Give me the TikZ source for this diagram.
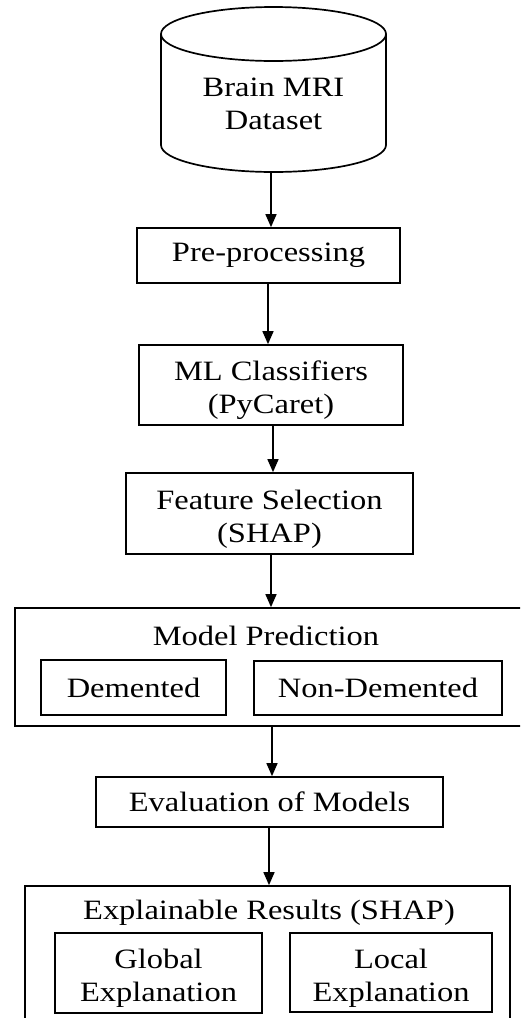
\documentclass[tikz,border=0pt]{standalone}
\usepackage{fontspec}
\setmainfont{Liberation Serif}[FakeStretch=1.16]
\usetikzlibrary{arrows.meta}
\newcommand{\tp}{\rule{0pt}{30pt}}
\begin{document}
\begin{tikzpicture}[x=1pt,y=-1pt,
  every node/.style={font=\fontsize{28}{33}\selectfont, align=center, inner sep=0pt},
  box/.style={draw, line width=1.7pt, rectangle},
  conn/.style={line width=1.5pt, -{Triangle[length=13pt,width=11pt]}},
  outline/.style={line width=1.7pt}]
\clip (0,0) rectangle (520,1018);
\useasboundingbox (0,0) rectangle (520,1018);
% cylinder
\node[minimum width=225pt, minimum height=166pt] (db) at (273.5,89) {};
\draw[outline] (161,34) -- (161,145) arc[start angle=180, end angle=360, x radius=112.5pt, y radius=27pt] -- (386,34);
\draw[outline] (273.5,34) ellipse[x radius=112.5pt, y radius=27pt];
\node (dbt) at (273.5,98) {\tp Brain MRI\\Dataset};
% boxes
\node[box, minimum width=263pt, minimum height=55pt] (pre) at (268.5,255.5) {Pre-processing};
\node[box, minimum width=264pt, minimum height=80pt] (ml) at (271,385) {\tp ML Classifiers\\(PyCaret)};
\node[box, minimum width=287pt, minimum height=81pt] (fs) at (269.5,513.5) {\tp Feature Selection\\(SHAP)};
\node[box, minimum width=515pt, minimum height=118pt] (mp) at (272.5,667) {};
\node (mpt) at (266,636) {Model Prediction};
\node[box, minimum width=185pt, minimum height=55pt] (dem) at (133.5,687.5) {Demented};
\node[box, minimum width=248pt, minimum height=54pt] (ndem) at (378,688) {Non-Demented};
\node[box, minimum width=347pt, minimum height=50pt] (ev) at (269.5,802) {Evaluation of Models};
\node[box, minimum width=485pt, minimum height=160pt] (xr) at (267.5,966) {};
\node (xrt) at (269,913) {Explainable Results (SHAP)};
\node[box, minimum width=207pt, minimum height=80pt] (gl) at (158.5,973) {\tp Global\\Explanation};
\node[box, minimum width=202pt, minimum height=79pt] (lo) at (391,972.5) {\tp Local\\Explanation};
% connectors
\draw[conn] (db.south -| 271,0) -- (pre.north -| 271,0);
\draw[conn] (pre.south -| 268,0) -- (ml.north -| 268,0);
\draw[conn] (ml.south -| 273,0) -- (fs.north -| 273,0);
\draw[conn] (fs.south -| 271,0) -- (mp.north -| 271,0);
\draw[conn] (mp.south -| 272,0) -- (ev.north -| 272,0);
\draw[conn] (ev.south -| 269,0) -- (xr.north -| 269,0);
\end{tikzpicture}
\end{document}
